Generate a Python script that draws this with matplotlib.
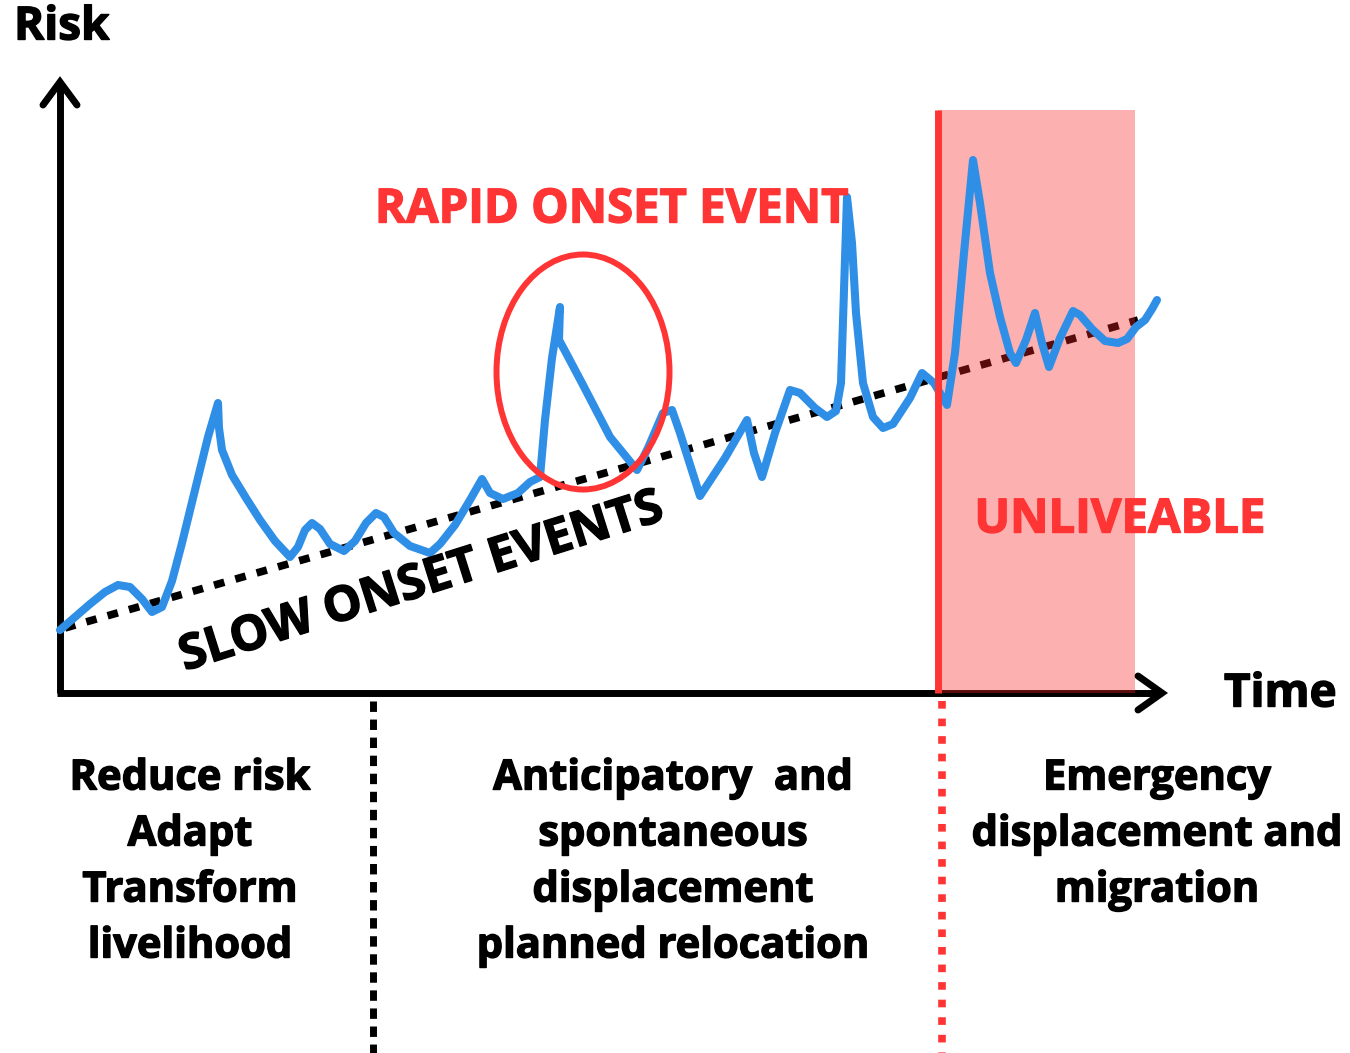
import matplotlib
matplotlib.use("Agg")
import matplotlib.pyplot as plt
import matplotlib.patheffects as pe
from matplotlib.patches import Ellipse, Rectangle

plt.rcParams['font.family'] = ['Open Sans', 'DejaVu Sans']

# risk curve (time, risk)
time = [0.0, 1.5, 3.0, 4.5, 5.8, 7.0, 8.2, 9.2, 10.2, 11.2, 12.2, 13.5, 14.8,
        15.8, 15.9, 16.2, 17.2, 18.6, 20.0, 21.5, 23.0, 23.8, 24.5, 25.2, 26.0,
        27.0, 28.4, 29.5, 30.6, 31.6, 32.4, 33.4, 35.0, 37.0, 38.0, 39.5, 41.0,
        42.2, 43.0, 44.3, 45.8, 47.0, 48.0, 48.5, 49.2, 50.0, 49.9, 50.5, 52.3,
        55.0, 57.7, 58.8, 60.3, 61.2, 62.0, 64.0, 66.5, 68.7, 69.4, 70.2, 71.5,
        73.0, 74.0, 75.5, 76.7, 77.6, 78.1, 78.7, 79.2, 79.6, 80.3, 81.3, 82.3,
        83.3, 85.0, 86.2, 87.4, 88.7, 89.5, 90.4, 91.3, 92.0, 93.0, 94.0, 95.0,
        95.6, 96.6, 97.5, 98.2, 98.9, 100.0, 101.3, 102.0, 103.2, 104.5, 105.8,
        106.7, 107.6, 108.5, 109.2, 109.7]
risk = [6.3, 7.6, 8.9, 10.1, 10.8, 10.6, 9.4, 8.1, 8.6, 11.2, 15.0, 20.3, 25.6,
        29.0, 26.5, 24.3, 21.8, 19.5, 17.3, 15.2, 13.6, 14.6, 16.3, 17.0, 16.4,
        14.9, 14.2, 15.2, 17.0, 18.0, 17.6, 16.0, 14.7, 14.0, 14.9, 16.8, 19.3,
        21.4, 20.0, 19.4, 20.0, 21.1, 21.6, 27.3, 33.5, 38.6, 35.3, 34.2, 30.8,
        25.6, 22.3, 24.5, 28.0, 28.3, 26.0, 19.7, 23.5, 27.3, 24.0, 21.6, 26.0,
        30.3, 30.0, 28.5, 27.6, 28.2, 31.0, 49.6, 45.0, 38.0, 31.0, 27.6, 26.5,
        26.9, 29.5, 32.0, 31.0, 28.8, 34.0, 44.0, 53.3, 49.0, 42.0, 37.6, 34.0,
        33.0, 35.3, 38.0, 35.0, 32.6, 35.5, 38.2, 37.8, 36.4, 35.2, 35.0,
        35.4, 36.6, 37.3, 38.4, 39.3]

trend_time = [0.5, 107.8]
trend_risk = [6.5, 37.3]

x_end, y_end = 110.2, 61.1
unliveable_start, unliveable_end, unliveable_top = 87.8, 107.5, 58.3
phase_split = [31.3, 88.2]

rapid_center = (52.3, 32.1)
rapid_size = (17.3, 23.5)

phase_labels = [
    ["Reduce risk", "Adapt", "Transform", "livelihood"],
    ["Anticipatory  and", "spontaneous", "displacement", "planned relocation"],
    ["Emergency", "displacement and", "migration"],
]
phase_x = [13.0, 61.3, 109.7]
line_rows = [-8.6, -14.2, -19.8, -25.4]

blue = '#2f8fe6'
red = '#ff3434'


def heavy(color):
    # thicken the bold face a little, the original uses an extra bold font
    return dict(fontweight='bold', color=color,
                path_effects=[pe.withStroke(linewidth=1.0, foreground=color)])


fig = plt.figure(figsize=(13.5, 10.53), dpi=100)
ax = fig.add_axes([0, 0, 1, 1])
ax.set_xlim(-6, 129)
ax.set_ylim(-36, 69.3)
ax.axis('off')

# axes with open arrowheads
ax.plot([0, 0], [0, y_end], color='black', lw=5, solid_capstyle='butt', zorder=2)
ax.plot([-0.3, x_end], [0, 0], color='black', lw=5, solid_capstyle='butt', zorder=2)
ax.plot([-1.7, 0, 1.7], [y_end - 2.3, y_end, y_end - 2.3], color='black', lw=5,
        solid_capstyle='round', solid_joinstyle='miter', zorder=2)
ax.plot([x_end - 2.4, x_end, x_end - 2.4], [1.7, 0, -1.7], color='black', lw=5,
        solid_capstyle='round', solid_joinstyle='miter', zorder=2)

# slow onset trend
ax.plot(trend_time, trend_risk, color='black', lw=5.5, dashes=(1.4, 1.5),
        dash_capstyle='butt', zorder=3)

# unliveable zone
ax.add_patch(Rectangle((unliveable_start, 0), unliveable_end - unliveable_start,
                       unliveable_top, facecolor='#fa2424', alpha=0.36,
                       edgecolor='none', zorder=4))

ax.plot(time, risk, color=blue, lw=5.8, solid_joinstyle='round',
        solid_capstyle='round', zorder=5)

ax.plot([unliveable_start, unliveable_start], [0, unliveable_top], color=red,
        lw=5, solid_capstyle='butt', zorder=6)

ax.add_patch(Ellipse(rapid_center, rapid_size[0], rapid_size[1], fill=False,
                     edgecolor=red, lw=4.3, zorder=6))

# phase separators below the axis
ax.plot([phase_split[0]] * 2, [-0.8, -36], color='black', lw=5,
        dashes=(1.5, 1.1), dash_capstyle='butt', zorder=2)
ax.plot([phase_split[1]] * 2, [-0.8, -36], color=red, lw=5.5,
        dashes=(1.0, 1.3), dash_capstyle='butt', zorder=2)

ax.text(-4.6, 66.6, "Risk", fontsize=33, ha='left', va='center', **heavy('black'))
ax.text(116.4, -0.1, "Time", fontsize=33, ha='left', va='center', **heavy('black'))
ax.text(55.2, 48.3, "RAPID ONSET EVENT", fontsize=34,
        ha='center', va='center', zorder=7, **heavy(red))
ax.text(106.0, 17.3, "UNLIVEABLE", fontsize=34,
        ha='center', va='center', zorder=7, **heavy(red))
ax.text(36.2, 11.0, "SLOW ONSET EVENTS", fontsize=35, rotation=17.5,
        rotation_mode='anchor', ha='center', va='center', zorder=7,
        **heavy('black'))

for x, lines in zip(phase_x, phase_labels):
    for row, line in zip(line_rows, lines):
        ax.text(x, row, line, fontsize=30, ha='center', va='center',
                **heavy('black'))

fig.savefig('out.png', dpi=100)
